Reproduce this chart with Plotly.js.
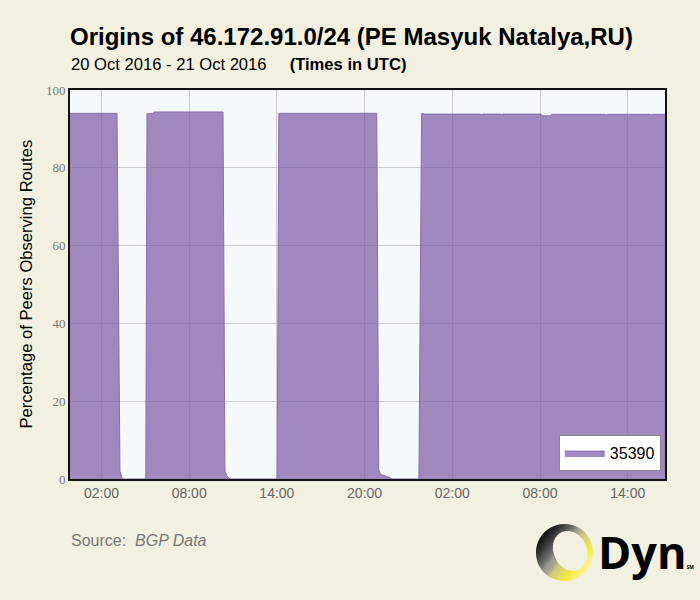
<!DOCTYPE html>
<html>
<head>
<meta charset="utf-8">
<script src="https://cdn.plot.ly/plotly-3.0.1.min.js"></script>
<style>html,body{margin:0;padding:0;background:#f2f0e0;}#chart{width:700px;height:600px;}</style>
</head>
<body>
<div id="chart"></div>
<script>
// Time stamps (UTC) and percentage of peers observing routes for origin AS 35390
const times = [
  '2016-10-19 23:51', '2016-10-20 03:04', '2016-10-20 03:16', '2016-10-20 03:22', '2016-10-20 03:26',
  '2016-10-20 05:02', '2016-10-20 05:07', '2016-10-20 05:34', '2016-10-20 05:36', '2016-10-20 10:19',
  '2016-10-20 10:27', '2016-10-20 10:35', '2016-10-20 10:47', '2016-10-20 14:01', '2016-10-20 14:08',
  '2016-10-20 20:50', '2016-10-20 20:58', '2016-10-20 21:05', '2016-10-20 21:44', '2016-10-20 21:52',
  '2016-10-20 23:43', '2016-10-20 23:54', '2016-10-21 00:05', '2016-10-21 03:57', '2016-10-21 04:00',
  '2016-10-21 04:03', '2016-10-21 05:19', '2016-10-21 05:22', '2016-10-21 05:25', '2016-10-21 08:04',
  '2016-10-21 08:10', '2016-10-21 08:42', '2016-10-21 08:48', '2016-10-21 12:29', '2016-10-21 12:32',
  '2016-10-21 12:35', '2016-10-21 15:34', '2016-10-21 15:37', '2016-10-21 15:40', '2016-10-21 16:33'
];
const pct = [
  94.0, 94.0, 2.0, 0.6, 0,
  0, 93.9, 94.0, 94.35, 94.35,
  2.0, 0.8, 0, 0, 94.0,
  94.0, 2.3, 1.2, 0.4, 0,
  0, 94.0, 93.8, 93.8, 93.5,
  93.8, 93.8, 93.5, 93.8, 93.8,
  93.35, 93.35, 93.75, 93.75, 93.5,
  93.75, 93.75, 93.5, 93.75, 93.75
];
const seriesName = '35390';
const xRange = ['2016-10-19 23:51', '2016-10-21 16:33'];
const yTicks = [0, 20, 40, 60, 80, 100];

const trace = {
  x: times, y: pct, name: seriesName, type: 'scatter', mode: 'lines',
  fill: 'tozeroy', fillcolor: 'rgba(121,88,163,0.7)',
  line: {color: '#8a6cb2', width: 1},
  hoverinfo: 'skip'
};

const ringSvg = '<svg xmlns="http://www.w3.org/2000/svg" width="60" height="60" viewBox="0 0 60 60">' +
  '<defs><linearGradient id="g" x1="0.1" y1="0.2" x2="0.9" y2="0.8">' +
  '<stop offset="0" stop-color="#111"/><stop offset="0.35" stop-color="#2a2a2a"/>' +
  '<stop offset="0.55" stop-color="#d8d24a"/><stop offset="0.8" stop-color="#f4ec3a"/><stop offset="1" stop-color="#fff59a"/></linearGradient>' +
  '<linearGradient id="h" x1="0.3" y1="0" x2="0.9" y2="0.5">' +
  '<stop offset="0" stop-color="#666" stop-opacity="0"/><stop offset="0.5" stop-color="#aaa" stop-opacity="0.8"/><stop offset="1" stop-color="#ddd" stop-opacity="0"/></linearGradient></defs>' +
  '<path fill-rule="evenodd" fill="url(#g)" d="M30 1 A29 29 0 1 0 30.01 1 Z M33 8 A17 21 -25 1 1 32.99 8 Z"/>' +
  '<path fill-rule="evenodd" fill="url(#h)" d="M30 1 A29 29 0 1 0 30.01 1 Z M33 8 A17 21 -25 1 1 32.99 8 Z"/>' +
  '</svg>';

const layout = {
  width: 700, height: 600,
  paper_bgcolor: '#f2f0e0', plot_bgcolor: '#f5f8fc',
  margin: {l: 70, r: 35, t: 90, b: 121},
  font: {family: '"Liberation Sans", Arial, sans-serif', color: '#000'},
  title: {
    text: 'Origins of 46.172.91.0/24 (PE Masyuk Natalya,RU)',
    x: 0, xref: 'paper', xanchor: 'left',
    y: 1 - 37 / 600, yref: 'container', yanchor: 'middle',
    font: {size: 24, weight: 700, color: '#000', family: '"Liberation Sans", Arial, sans-serif'}
  },
  showlegend: true,
  legend: {
    x: 0.993, xanchor: 'right', y: 0.02, yanchor: 'bottom',
    bgcolor: '#ffffff', bordercolor: '#888', borderwidth: 1,
    itemwidth: 40, tracegroupgap: 0,
    font: {size: 16, color: '#000'}
  },
  xaxis: {
    type: 'date', range: xRange,
    tick0: '2016-10-20 02:00', dtick: 6 * 3600 * 1000, tickformat: '%H:%M',
    showgrid: true, gridcolor: '#cccccc', gridwidth: 1,
    showline: true, linecolor: '#111', linewidth: 2, mirror: true,
    ticks: '', ticklen: 0,
    tickfont: {size: 14, color: '#666'},
    zeroline: false, fixedrange: true
  },
  yaxis: {
    range: [0, 100], tickvals: yTicks, ticktext: yTicks.map(String),
    showgrid: true, gridcolor: '#cccccc', gridwidth: 1,
    showline: true, linecolor: '#111', linewidth: 2, mirror: true,
    ticks: '', ticklen: 0,
    tickfont: {size: 13, color: '#777', family: '"Liberation Serif", "Times New Roman", serif'},
    zeroline: false, fixedrange: true
  },
  annotations: [
    {text: '20 Oct 2016 - 21 Oct 2016&nbsp;&nbsp;&nbsp;&nbsp; <b>(Times in UTC)</b>',
     xref: 'paper', yref: 'paper', x: (69 - 70) / 595, y: (479 - 64) / 389,
     xanchor: 'left', yanchor: 'middle', showarrow: false, font: {size: 16.6, color: '#000'}},
    {text: 'Percentage of Peers Observing Routes',
     xref: 'paper', yref: 'paper', x: (26 - 70) / 595, y: 0.5, textangle: -90,
     xanchor: 'center', yanchor: 'middle', showarrow: false, font: {size: 16.6, color: '#000'}},
    {text: 'Source: &nbsp;<i>BGP Data</i>',
     xref: 'paper', yref: 'paper', x: (69 - 70) / 595, y: (479 - 540) / 389,
     xanchor: 'left', yanchor: 'middle', showarrow: false, font: {size: 16, color: '#777'}},
    {text: 'Dyn<span style="font-size:5px">SM</span>',
     xref: 'paper', yref: 'paper', x: (596 - 70) / 595, y: (479 - 551) / 389,
     xanchor: 'left', yanchor: 'middle', showarrow: false,
     font: {size: 45, color: '#000', weight: 700, family: '"Open Sans", "Liberation Sans", sans-serif'}}
  ],
  images: [{
    source: 'data:image/svg+xml;charset=utf-8,' + encodeURIComponent(ringSvg),
    xref: 'paper', yref: 'paper',
    x: (535 - 70) / 595, y: (479 - 523) / 389,
    sizex: 59 / 595, sizey: 59 / 389,
    xanchor: 'left', yanchor: 'top', sizing: 'stretch', layer: 'above'
  }]
};

Plotly.newPlot('chart', [trace], layout, {displayModeBar: false, staticPlot: true});
</script>
</body>
</html>
